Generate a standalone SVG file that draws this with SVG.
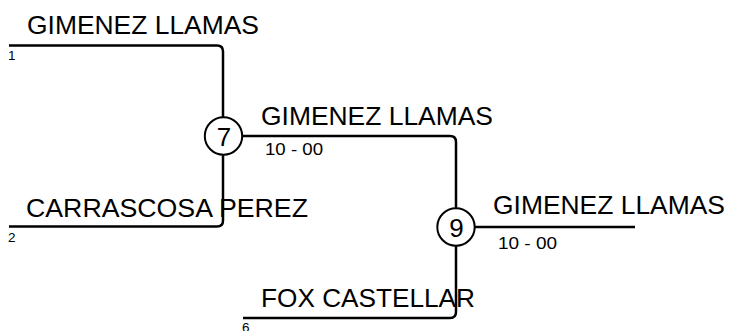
<svg xmlns="http://www.w3.org/2000/svg" width="730" height="331" viewBox="0 0 730 331">
<style>
.ln{fill:none;stroke:#000;stroke-width:2.5;}
.c{fill:#fff;stroke:#000;stroke-width:2;}
.nm{font-family:"Liberation Sans",Arial,sans-serif;font-size:25.5px;fill:#000;}
.sc{font-family:"Liberation Sans",Arial,sans-serif;font-size:16.5px;fill:#000;}
.sd{font-family:"Liberation Sans",Arial,sans-serif;font-size:13.5px;fill:#000;}
.dg{font-family:"Liberation Sans",Arial,sans-serif;font-size:26px;fill:#000;text-anchor:middle;}
</style>
<rect width="730" height="331" fill="#fff"/>
<g id="connectors">
<path class="ln" d="M9,45.5 H217 Q223,45.5 223,51.5 V117"/>
<path class="ln" d="M9,226.5 H217 Q223,226.5 223,220.5 V155"/>
<path class="ln" d="M242.5,136 H450 Q456,136 456,142 V208"/>
<path class="ln" d="M243,318 H450 Q456,318 456,312 V246"/>
<path class="ln" d="M475,227 H635"/>
</g>
<g id="entry1">
<text class="nm" x="27" y="33.5" textLength="232" lengthAdjust="spacingAndGlyphs">GIMENEZ LLAMAS</text>
<text class="sd" x="8" y="59.5">1</text>
</g>
<g id="entry2">
<text class="nm" x="26" y="216.5" textLength="282" lengthAdjust="spacingAndGlyphs">CARRASCOSA PEREZ</text>
<text class="sd" x="8" y="241.5">2</text>
</g>
<g id="entry6">
<text class="nm" x="261" y="306.5" textLength="214" lengthAdjust="spacingAndGlyphs">FOX CASTELLAR</text>
<text class="sd" x="242" y="331.5">6</text>
</g>
<g id="match7">
<circle class="c" cx="223.5" cy="136" r="18.7"/>
<text class="dg" x="224" y="145.5">7</text>
<text class="nm" x="261" y="125" textLength="232" lengthAdjust="spacingAndGlyphs">GIMENEZ LLAMAS</text>
<text class="sc" x="265" y="155" textLength="58" lengthAdjust="spacingAndGlyphs">10 - 00</text>
</g>
<g id="match9">
<circle class="c" cx="456" cy="227" r="18.7"/>
<text class="dg" x="456.5" y="236.5">9</text>
<text class="nm" x="493" y="213.5" textLength="232" lengthAdjust="spacingAndGlyphs">GIMENEZ LLAMAS</text>
<text class="sc" x="498" y="248.5" textLength="59" lengthAdjust="spacingAndGlyphs">10 - 00</text>
</g>
</svg>
